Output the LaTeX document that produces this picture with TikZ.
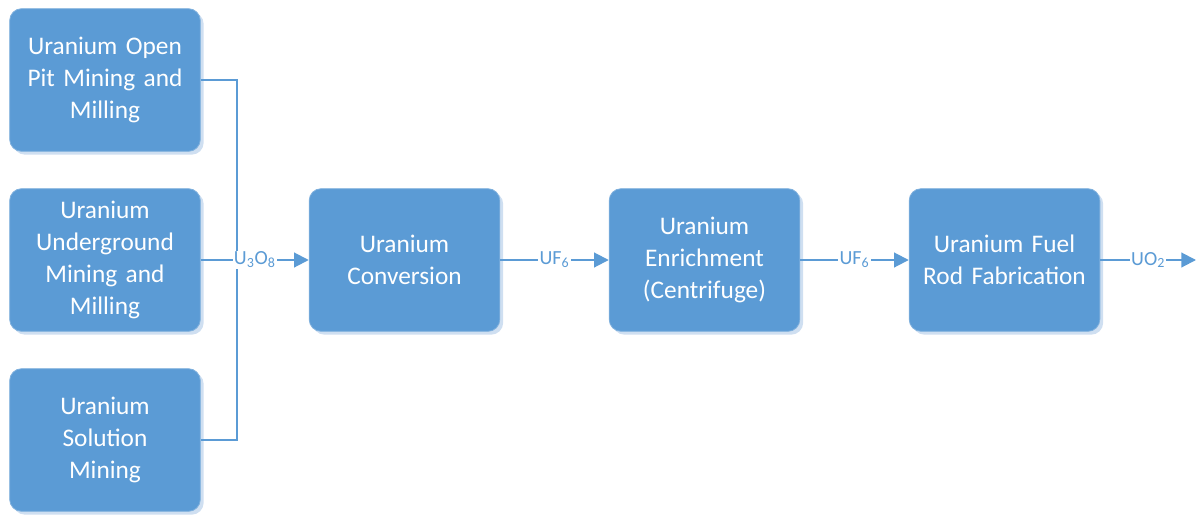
\documentclass[tikz,border=0pt]{standalone}
\usepackage{fontspec}
\setmainfont{Carlito}
\usetikzlibrary{arrows.meta}
\definecolor{boxblue}{HTML}{5B9BD5}
\definecolor{boxedge}{HTML}{7FB0DD}
\definecolor{shadowblue}{HTML}{CFDFF1}
\tikzset{
  procbox/.style={rectangle, rounded corners=9pt, fill=boxblue, draw=boxedge, line width=0.6pt,
    preaction={fill=shadowblue, draw=none, transform canvas={shift={(2.5pt,-2.5pt)}}},
    minimum width=143pt, minimum height=107pt, text width=140pt, align=center,
    text=white, font=\fontsize{19}{24}\selectfont, inner sep=0pt},
  flow/.style={draw=boxblue, line width=1.5pt},
  flowarrow/.style={flow, -{Triangle[length=11pt,width=11pt]}},
  flowlabel/.style={fill=white, text=boxblue, inner sep=1pt, font=\fontsize{15}{18}\selectfont},
}
\begin{document}
\begin{tikzpicture}[x=0.75pt,y=-0.75pt]
\useasboundingbox (0,0) rectangle (1198,514);
\node[procbox] (open) at (105,80) {Uranium Open\\Pit Mining and\\Milling};
\node[procbox] (under) at (105,260) {Uranium\\Underground\\Mining and\\Milling};
\node[procbox] (sol) at (105,440) {Uranium\\Solution\\Mining};
\node[procbox] (conv) at (404.5,260) {Uranium\\Conversion};
\node[procbox] (enr) at (704.5,260) {Uranium\\Enrichment\\(Centrifuge)};
\node[procbox] (fuel) at (1004.5,260) {Uranium Fuel\\Rod Fabrication};
\coordinate (bus) at (237,260);
\coordinate (out) at (1196,260);
\draw[flow] (open.east) -- (bus |- open.east) -- (bus |- sol.east) -- (sol.east);
\draw[flowarrow] (under.east) -- (conv.west) node[midway, flowlabel] (l1) {U\textsubscript{3}O\textsubscript{8}};
\draw[flowarrow] (conv.east) -- (enr.west) node[midway, flowlabel] (l2) {UF\textsubscript{6}};
\draw[flowarrow] (enr.east) -- (fuel.west) node[midway, flowlabel] (l3) {UF\textsubscript{6}};
\draw[flowarrow] (fuel.east) -- (out) node[midway, flowlabel] (l4) {UO\textsubscript{2}};
\end{tikzpicture}
\end{document}
